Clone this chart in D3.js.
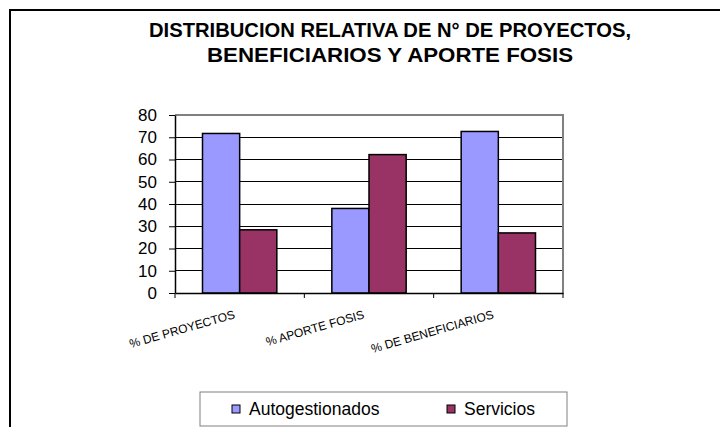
<!DOCTYPE html>
<html><head><meta charset="utf-8">
<script src="https://cdn.jsdelivr.net/npm/d3@7"></script>
<style>body{margin:0;background:#fff}svg{display:block;font-family:"Liberation Sans",Arial,sans-serif}</style>
</head><body>
<svg id="c" width="720" height="427"></svg>
<script>
const categories = ["% DE PROYECTOS", "% APORTE FOSIS", "% DE BENEFICIARIOS"];
const seriesNames = ["Autogestionados", "Servicios"];
const autogestionados = [71.7, 38, 72.6];
const servicios = [28.4, 62.2, 27];
const yTicks = [0, 10, 20, 30, 40, 50, 60, 70, 80];
const titleLines = ["DISTRIBUCION RELATIVA DE N° DE PROYECTOS,", "BENEFICIARIOS Y APORTE FOSIS"];
const colors = ["#9999FF", "#993366"];

const svg = d3.select("#c");
// outer frame
svg.append("rect").attr("x", 10).attr("y", 10).attr("width", 760).attr("height", 500)
  .attr("fill", "none").attr("stroke", "#000").attr("stroke-width", 2);

// title
const titleWidths = [482, 366];
svg.append("g").selectAll("text").data(titleLines).join("text")
  .attr("x", 390).attr("y", (d, i) => 37 + i * 25)
  .attr("text-anchor", "middle").attr("font-weight", "bold").attr("font-size", 20)
  .attr("textLength", (d, i) => titleWidths[i]).attr("lengthAdjust", "spacingAndGlyphs")
  .text(d => d);

const L = 175, R = 563, T = 115, B = 293;
const y = d3.scaleLinear().domain([0, 80]).range([B, T]);
const x0 = d3.scaleBand().domain(categories).range([L, R]).padding(0);
const x1 = d3.scaleBand().domain(seriesNames).range([0, x0.bandwidth()]).paddingInner(0).paddingOuter(0.74);

// gridlines
svg.append("g").selectAll("line").data(yTicks.filter(t => t > 0 && t < 80)).join("line")
  .attr("x1", L).attr("x2", R).attr("y1", d => y(d)).attr("y2", d => y(d))
  .attr("stroke", "#000").attr("stroke-width", 1).attr("shape-rendering", "crispEdges");
// plot border top/right (gray)
svg.append("path").attr("d", `M${L},${y(80)}H${R}V${B}`).attr("fill", "none")
  .attr("stroke", "#808080").attr("stroke-width", 2);

// bars
const data = categories.map((c, i) => ({c, vals: [autogestionados[i], servicios[i]]}));
const groups = svg.append("g").selectAll("g").data(data).join("g")
  .attr("transform", d => `translate(${x0(d.c)},0)`);
groups.selectAll("rect").data(d => d.vals.map((v, j) => ({v, s: seriesNames[j], j}))).join("rect")
  .attr("x", d => x1(d.s)).attr("width", x1.bandwidth())
  .attr("y", d => y(d.v)).attr("height", d => B - y(d.v))
  .attr("fill", d => colors[d.j]).attr("stroke", "#000").attr("stroke-width", 1.5);

// y axis
const yAxis = svg.append("g").attr("transform", `translate(${L},0)`)
  .call(d3.axisLeft(y).tickValues(yTicks).tickSize(6).tickPadding(12).tickSizeOuter(0));
yAxis.select(".domain").attr("stroke", "#000").attr("stroke-width", 1.5);
yAxis.selectAll("line").attr("stroke", "#000");
yAxis.selectAll("text").attr("font-size", 17).attr("font-family", "Liberation Sans, Arial, sans-serif").attr("fill", "#000");

// x axis
const xAxis = svg.append("g").attr("transform", `translate(0,${B})`)
  .call(d3.axisBottom(x0).tickSize(0).tickFormat(""));
xAxis.select(".domain").attr("stroke", "#000").attr("stroke-width", 1.5);
const edges = categories.map(c => x0(c)).concat([R]);
svg.append("g").selectAll("line").data(edges).join("line")
  .attr("x1", d => d).attr("x2", d => d).attr("y1", B).attr("y2", B + 5)
  .attr("stroke", "#000").attr("stroke-width", 1);
svg.append("g").selectAll("text").data(categories).join("text")
  .attr("transform", d => `translate(${x0(d) + x0.bandwidth() / 2 - 4},${318}) rotate(-16)`)
  .attr("text-anchor", "end").attr("font-size", 12)
  .text(d => d);

// legend
const lg = svg.append("g");
lg.append("rect").attr("x", 200).attr("y", 392).attr("width", 367).attr("height", 34)
  .attr("fill", "#fff").attr("stroke", "#808080").attr("stroke-width", 1);
const lx = [232, 447];
seriesNames.forEach((s, i) => {
  lg.append("rect").attr("x", lx[i]).attr("y", 405).attr("width", 8).attr("height", 8)
    .attr("fill", colors[i]).attr("stroke", "#000").attr("stroke-width", 1);
  lg.append("text").attr("x", lx[i] + 17).attr("y", 415).attr("font-size", 17.5).text(s);
});
</script>
</body></html>
